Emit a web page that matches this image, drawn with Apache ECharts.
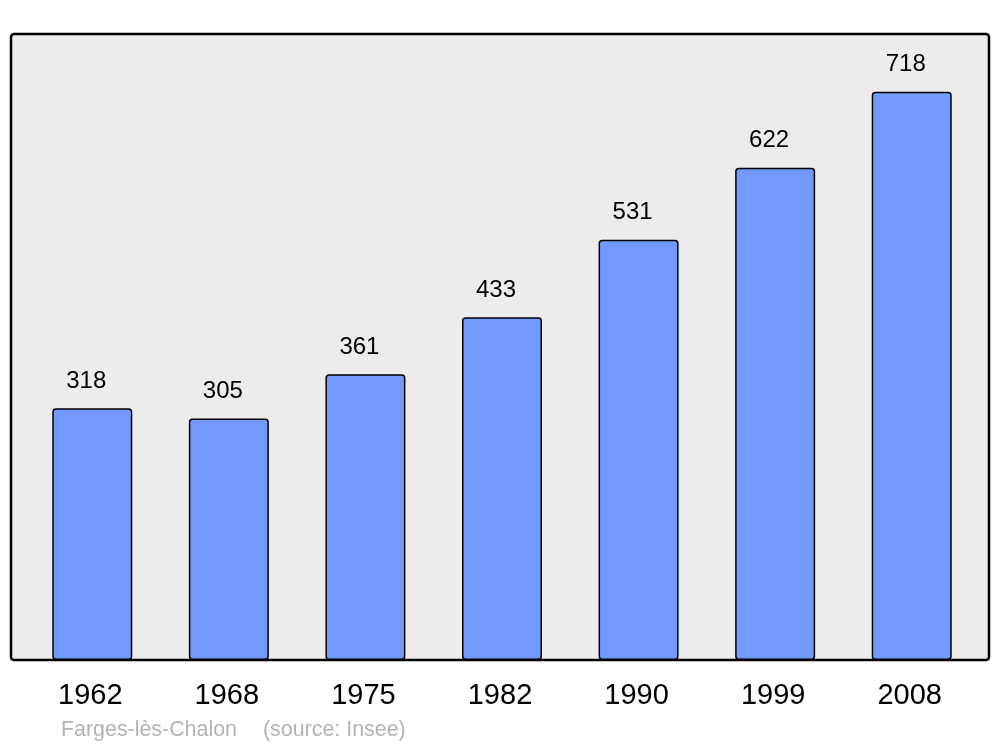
<!DOCTYPE html>
<html>
<head>
<meta charset="utf-8">
<script src="https://cdn.jsdelivr.net/npm/echarts@6/dist/echarts.min.js"></script>
<style>html,body{margin:0;padding:0;background:#fff;}#c{width:1000px;height:747px;}</style>
</head>
<body>
<div id="c"></div>
<script>
const years = ['1962', '1968', '1975', '1982', '1990', '1999', '2008'];
const population = [318, 305, 361, 433, 531, 622, 718];
const townName = 'Farges-lès-Chalon';
const sourceNote = '(source: Insee)';

const chart = echarts.init(document.getElementById('c'), null, {renderer: 'canvas'});
const font = '"Liberation Sans", Arial, sans-serif';
chart.setOption({
  animation: false,
  backgroundColor: '#ffffff',
  graphic: [
    {type: 'rect', z: 0, shape: {x: 11, y: 34, width: 978, height: 626, r: 3},
     style: {fill: '#ececec', stroke: '#000000', lineWidth: 2.5}},
    {type: 'text', z: 5, left: 61, top: 720,
     style: {text: townName, fill: '#b3b3b3', font: '21.4px ' + font}},
    {type: 'text', z: 5, left: 263, top: 720,
     style: {text: sourceNote, fill: '#b3b3b3', font: '21.4px ' + font}}
  ],
  grid: {left: 24, right: 20, top: 34, bottom: 87},
  xAxis: {
    type: 'category', data: years,
    axisLine: {show: false}, axisTick: {show: false},
    axisLabel: {fontSize: 29, color: '#000', fontFamily: font, margin: 21, padding: [0, 4, 0, 0]}
  },
  yAxis: {type: 'value', min: 0, max: 791, show: false, splitLine: {show: false}},
  series: [{
    type: 'bar', data: population, barWidth: 80, z: 2,
    itemStyle: {color: '#7399ff', borderColor: '#000', borderWidth: 1.5, borderRadius: 3},
    label: {show: true, position: 'top', distance: 15, offset: [-6, 0], fontSize: 24, color: '#000', fontFamily: font}
  }]
});
</script>
</body>
</html>
